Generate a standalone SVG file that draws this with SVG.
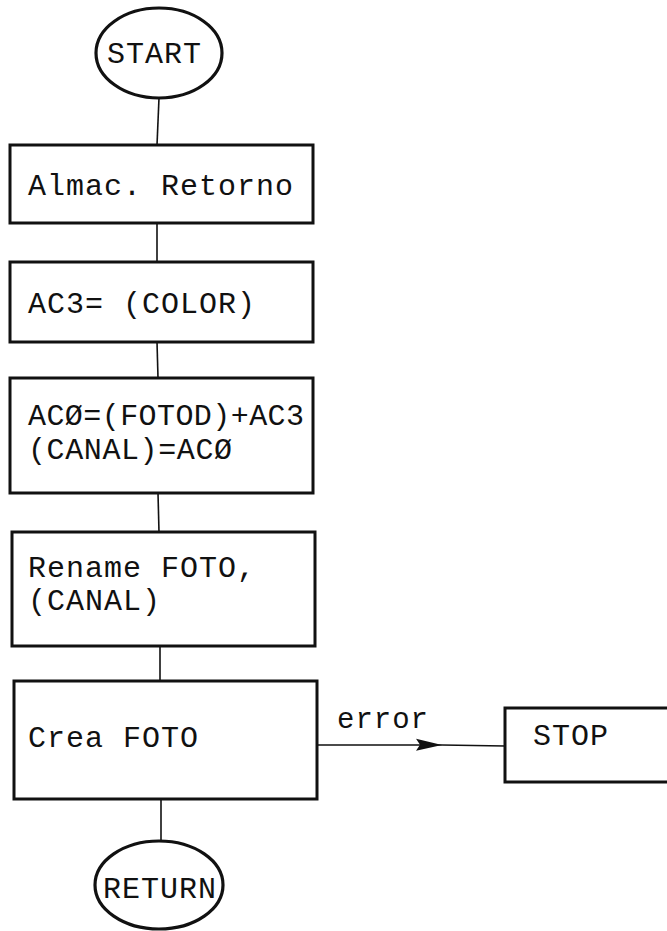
<svg xmlns="http://www.w3.org/2000/svg" width="667" height="931" viewBox="0 0 667 931">
<style>
.box{fill:none;stroke:#111;stroke-width:3}
.term{fill:none;stroke:#111;stroke-width:3.2}
.con{fill:none;stroke:#111;stroke-width:1.6}
text{font-family:"Liberation Mono","DejaVu Sans Mono",monospace;font-size:30px;fill:#111;letter-spacing:1px}
</style>
<defs>
<marker id="arr" markerWidth="28" markerHeight="14" refX="26" refY="7" orient="auto" markerUnits="userSpaceOnUse">
<path d="M0,1 L26,7 L0,13 L4,7 Z" fill="#111"/>
</marker>
</defs>
<rect width="667" height="931" fill="#fff"/>
<g id="connectors">
<path class="con" d="M159,98 L157,145"/>
<path class="con" d="M157,223 L157,262"/>
<path class="con" d="M157,342 L158,378"/>
<path class="con" d="M158,493 L159,532"/>
<path class="con" d="M160,646 L160,681"/>
<path class="con" d="M161,799 L161,841"/>
<path class="con" d="M317,745 L442,745 L505,746" marker-mid="url(#arr)"/>
<text x="337" y="728" style="font-size:29px">error</text>
</g>
<g id="start">
<ellipse class="term" cx="159" cy="53" rx="63" ry="45"/>
<text x="107" y="63">START</text>
</g>
<g id="almac">
<rect class="box" x="10" y="145" width="303" height="78"/>
<text x="28" y="195">Almac. Retorno</text>
</g>
<g id="ac3">
<rect class="box" x="10" y="262" width="303" height="80"/>
<text x="28" y="313">AC3= (COLOR)</text>
</g>
<g id="ac0">
<rect class="box" x="10" y="378" width="303" height="115"/>
<text x="28" y="425" textLength="277" lengthAdjust="spacing">ACØ=(FOTOD)+AC3</text>
<text x="28" y="459" textLength="205" lengthAdjust="spacing">(CANAL)=ACØ</text>
</g>
<g id="rename">
<rect class="box" x="12" y="532" width="303" height="114"/>
<text x="28" y="577">Rename FOTO,</text>
<text x="28" y="610">(CANAL)</text>
</g>
<g id="crea">
<rect class="box" x="14" y="681" width="303" height="118"/>
<text x="28" y="747">Crea FOTO</text>
</g>
<g id="stop">
<rect class="box" x="505" y="708" width="190" height="74"/>
<text x="533" y="745">STOP</text>
</g>
<g id="return">
<ellipse class="term" cx="159" cy="885" rx="64" ry="44"/>
<text x="103" y="898">RETURN</text>
</g>
</svg>
